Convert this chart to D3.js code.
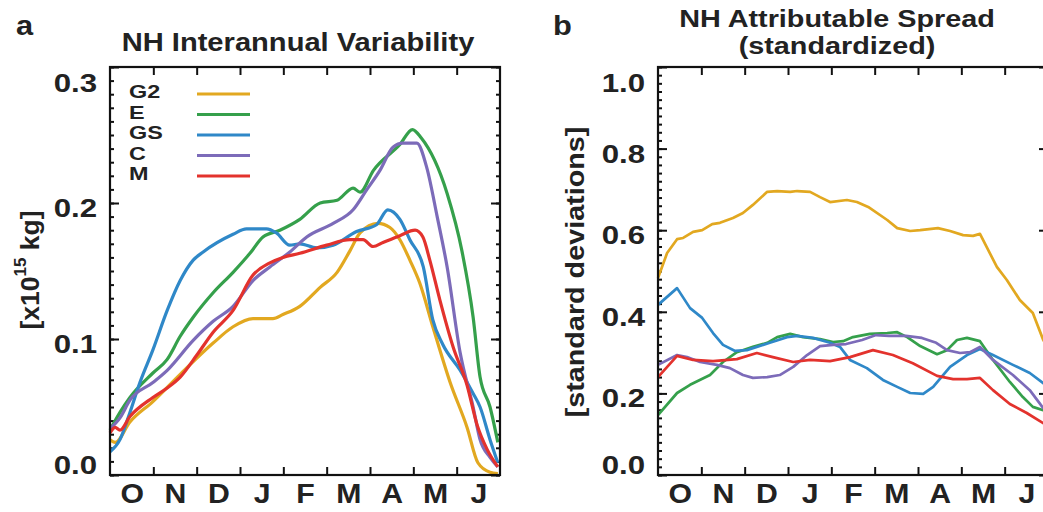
<!DOCTYPE html>
<html>
<head>
<meta charset="utf-8">
<script src="https://cdn.jsdelivr.net/npm/d3@7"></script>
<style>
  body { margin: 0; background: #fff; }
  svg text { font-family: "Liberation Sans", Arial, Helvetica, sans-serif; font-weight: bold; fill: #222; }
</style>
</head>
<body>
<svg id="chart" width="1043" height="512"></svg>
<script>
// month labels (one per interval, Oct..Jun)
const months = ['O', 'N', 'D', 'J', 'F', 'M', 'A', 'M', 'J'];
const seriesNames = ['G2', 'E', 'GS', 'C', 'M'];
const seriesColors = ['#e2a820', '#35a04b', '#2f88c8', '#7c6bb9', '#e3322d'];
const ticksA = [0, 0.1, 0.2, 0.3];
const ticksB = [0, 0.2, 0.4, 0.6, 0.8, 1.0];

// panel a: interannual variability [x10^15 kg], [month, value]
const varG2 = [[0,0.026],[0.12,0.024],[0.46,0.039],[0.99,0.054],[1.62,0.074],[2.38,0.097],[2.84,0.109],[3.3,0.115],[3.76,0.115],[3.99,0.118],[4.38,0.124],[4.85,0.138],[5.24,0.149],[5.54,0.165],[5.77,0.178],[6.18,0.185],[6.46,0.182],[6.69,0.173],[6.92,0.158],[7.15,0.141],[7.45,0.109],[7.85,0.068],[8.24,0.035],[8.49,0.009],[8.77,0.002],[8.95,0.001]];
const varE  = [[0,0.033],[0.23,0.046],[0.46,0.057],[0.99,0.075],[1.32,0.085],[1.62,0.102],[1.92,0.116],[2.38,0.134],[2.84,0.149],[3.23,0.163],[3.53,0.175],[3.92,0.180],[4.38,0.188],[4.85,0.200],[5.24,0.202],[5.61,0.211],[5.77,0.208],[6.08,0.224],[6.69,0.243],[6.98,0.254],[7.18,0.248],[7.78,0.207],[8.12,0.165],[8.38,0.116],[8.54,0.072],[8.77,0.050],[8.95,0.024]];
const varGS = [[0,0.017],[0.23,0.026],[0.46,0.046],[0.69,0.068],[0.99,0.092],[1.32,0.121],[1.62,0.143],[1.92,0.158],[2.15,0.164],[2.84,0.177],[3.15,0.181],[3.61,0.181],[3.84,0.178],[4.15,0.169],[4.38,0.170],[4.77,0.167],[5.15,0.169],[5.69,0.179],[6.15,0.184],[6.41,0.195],[6.69,0.188],[6.92,0.173],[7.23,0.153],[7.45,0.114],[7.68,0.096],[8.08,0.077],[8.38,0.060],[8.54,0.050],[8.77,0.026],[8.95,0.009]];
const varC  = [[0,0.034],[0.23,0.042],[0.46,0.055],[0.99,0.068],[1.32,0.077],[1.92,0.099],[2.38,0.113],[2.84,0.124],[3.3,0.143],[3.69,0.153],[4.15,0.164],[4.54,0.175],[5.15,0.185],[5.61,0.195],[5.93,0.210],[6.23,0.224],[6.53,0.241],[6.76,0.244],[7.08,0.244],[7.31,0.226],[7.55,0.190],[7.78,0.153],[8.08,0.090],[8.38,0.050],[8.54,0.026],[8.77,0.013],[8.95,0.006]];
const varM  = [[0,0.031],[0.12,0.035],[0.23,0.033],[0.46,0.043],[0.99,0.057],[1.32,0.064],[1.62,0.072],[2.0,0.088],[2.38,0.105],[2.84,0.121],[3.3,0.147],[3.69,0.156],[3.99,0.160],[4.38,0.163],[5.0,0.169],[5.54,0.173],[5.84,0.173],[6.07,0.168],[6.3,0.171],[6.69,0.176],[7.04,0.180],[7.22,0.175],[7.38,0.158],[7.61,0.129],[7.92,0.094],[8.24,0.066],[8.47,0.037],[8.7,0.019],[8.95,0.006]];

// panel b: attributable spread [standard deviations], [month, value]
const sprG2 = [[0,0.483],[0.21,0.544],[0.44,0.578],[0.58,0.581],[0.81,0.596],[1.02,0.600],[1.25,0.615],[1.43,0.618],[1.73,0.630],[1.96,0.642],[2.19,0.662],[2.52,0.694],[2.75,0.696],[3.05,0.694],[3.21,0.696],[3.51,0.694],[3.74,0.681],[3.97,0.669],[4.36,0.674],[4.59,0.669],[4.85,0.657],[5.29,0.625],[5.52,0.605],[5.82,0.598],[6.05,0.600],[6.46,0.605],[6.74,0.598],[7.04,0.588],[7.27,0.586],[7.43,0.591],[7.82,0.510],[8.05,0.478],[8.35,0.429],[8.65,0.397],[8.89,0.331],[9.0,0.31]];
const sprE  = [[0,0.147],[0.44,0.201],[0.74,0.221],[1.2,0.245],[1.5,0.277],[1.82,0.301],[2.19,0.314],[2.52,0.324],[2.75,0.338],[3.05,0.346],[3.35,0.338],[3.74,0.333],[4.04,0.326],[4.27,0.328],[4.5,0.338],[4.89,0.346],[5.29,0.348],[5.52,0.350],[5.75,0.338],[6.05,0.316],[6.44,0.296],[6.67,0.306],[6.9,0.331],[7.13,0.336],[7.43,0.328],[7.73,0.282],[8.12,0.228],[8.42,0.191],[8.65,0.167],[8.89,0.159],[9.0,0.156]];
const sprGS = [[0,0.417],[0.44,0.458],[0.74,0.409],[1.02,0.385],[1.27,0.348],[1.5,0.319],[1.78,0.304],[2.05,0.306],[2.28,0.314],[2.58,0.324],[2.98,0.338],[3.21,0.341],[3.58,0.336],[3.97,0.324],[4.2,0.314],[4.43,0.282],[4.82,0.262],[5.19,0.233],[5.52,0.216],[5.82,0.201],[6.12,0.199],[6.35,0.216],[6.74,0.265],[7.13,0.294],[7.43,0.309],[7.73,0.294],[8.19,0.270],[8.58,0.250],[8.89,0.225],[9.0,0.215]];
const sprC  = [[0,0.270],[0.44,0.294],[0.67,0.289],[0.97,0.277],[1.36,0.270],[1.66,0.262],[1.96,0.245],[2.19,0.238],[2.52,0.240],[2.81,0.245],[3.12,0.265],[3.44,0.294],[3.74,0.316],[4.04,0.319],[4.34,0.321],[4.71,0.331],[5.03,0.343],[5.33,0.341],[5.72,0.341],[6.09,0.336],[6.42,0.324],[6.67,0.306],[6.97,0.299],[7.2,0.301],[7.43,0.314],[7.73,0.282],[8.19,0.245],[8.58,0.208],[8.89,0.164],[9.0,0.155]];
const sprM  = [[0,0.240],[0.44,0.292],[0.81,0.282],[1.27,0.279],[1.82,0.284],[2.28,0.299],[2.65,0.289],[3.12,0.277],[3.51,0.282],[3.97,0.279],[4.43,0.289],[4.96,0.306],[5.42,0.294],[5.88,0.274],[6.44,0.243],[6.81,0.235],[7.13,0.235],[7.43,0.238],[7.73,0.208],[8.12,0.174],[8.51,0.152],[8.89,0.127],[9.0,0.122]];

const svg = d3.select('#chart');
const W = 390, H = 408, TOP = 67;

// the original lettering is wider than Liberation Sans; stretch horizontally
function label(x, y, size, sx, txt, anchor) {
  return svg.append('text')
    .attr('transform', `translate(${x},${y}) scale(${sx},1)`)
    .attr('text-anchor', anchor || 'start').attr('font-size', size).text(txt);
}

function panel(left, data, yMax, yTicks, minorStep, smooth) {
  const g = svg.append('g').attr('transform', `translate(${left},${TOP})`);
  const x = d3.scaleLinear().domain([0, 9]).range([0, W]);
  const y = d3.scaleLinear().domain([0, yMax]).range([H, 0]);
  const minor = d3.range(0, yMax + 1e-9, minorStep);

  // y ticks, left and right, pointing inward
  g.append('g').call(d3.axisLeft(y).tickValues(minor).tickSize(-4).tickFormat(''));
  g.append('g').attr('transform', `translate(${W},0)`).call(d3.axisRight(y).tickValues(minor).tickSize(-4).tickFormat(''));
  g.append('g').attr('transform', `translate(${W},0)`).call(d3.axisRight(y).tickValues(yTicks).tickSize(-9).tickFormat(''));
  const yl = g.append('g').call(d3.axisLeft(y).tickValues(yTicks).tickSize(-9).tickFormat(d3.format('.1f')));
  yl.selectAll('text').attr('font-size', 26).attr('x', 0)
    .attr('transform', 'translate(-13,0) scale(1.2,1)')
    .attr('dy', (d, i) => i === 0 ? '-0.05em' : i === yTicks.length - 1 ? '0.95em' : '0.52em');

  // month ticks, bottom and top
  g.append('g').attr('transform', `translate(0,${H})`).call(d3.axisBottom(x).tickValues(d3.range(1, 9)).tickSize(-8).tickFormat(''));
  g.append('g').call(d3.axisTop(x).tickValues(d3.range(1, 9)).tickSize(-8).tickFormat(''));
  const ml = g.append('g').attr('transform', `translate(0,${H})`)
    .call(d3.axisBottom(x).tickValues(d3.range(9).map(i => i + 0.5)).tickSize(0).tickPadding(8).tickFormat((d, i) => months[i]));
  ml.selectAll('text').attr('font-size', 27).attr('dy', '0.74em').attr('transform', 'scale(1.12,1)');

  g.selectAll('.domain').remove();
  g.selectAll('.tick line').attr('stroke', '#111').attr('stroke-width', 2);

  const line = d3.line().x(d => x(d[0])).y(d => y(d[1])).curve(smooth ? d3.curveMonotoneX : d3.curveLinear);
  data.forEach((s, i) => {
    g.append('path').datum(s).attr('d', line).attr('fill', 'none')
      .attr('stroke', seriesColors[i]).attr('stroke-width', smooth ? 3.2 : 2.7)
      .attr('stroke-linejoin', 'round');
  });

  g.append('rect').attr('width', W).attr('height', H).attr('fill', 'none').attr('stroke', '#111').attr('stroke-width', 2.2);
  return g;
}

const ga = panel(110, [varG2, varE, varGS, varC, varM], 0.3, ticksA, 0.01, true);
panel(658, [sprG2, sprE, sprGS, sprC, sprM], 1.0, ticksB, 0.02, false);

// legend in panel a
seriesNames.forEach((n, i) => {
  const ly = 27 + i * 20.5;
  ga.append('text').attr('transform', `translate(19,${ly + 4}) scale(1.3,1)`).attr('font-size', 18).text(n);
  ga.append('line').attr('x1', 87).attr('x2', 140).attr('y1', ly).attr('y2', ly)
    .attr('stroke', seriesColors[i]).attr('stroke-width', 3);
});

// titles and panel letters
label(16, 35, 28, 1.1, 'a');
label(553, 35, 28, 1.1, 'b');
label(298, 51, 26, 1.12, 'NH Interannual Variability', 'middle');
label(837, 27, 24, 1.2, 'NH Attributable Spread', 'middle');
label(837, 54, 24, 1.2, '(standardized)', 'middle');

// y axis titles
const yta = svg.append('text').attr('transform', 'translate(39,270) rotate(-90) scale(1.06,1)')
  .attr('text-anchor', 'middle').attr('font-size', 25);
yta.append('tspan').text('[x10');
yta.append('tspan').attr('font-size', 16).attr('dy', '-0.8em').text('15');
yta.append('tspan').attr('dy', '0.5em').text(' kg]');
svg.append('text').attr('transform', 'translate(584,272) rotate(-90) scale(1.15,1)')
  .attr('text-anchor', 'middle').attr('font-size', 25).text('[standard deviations]');
</script>
</body>
</html>
